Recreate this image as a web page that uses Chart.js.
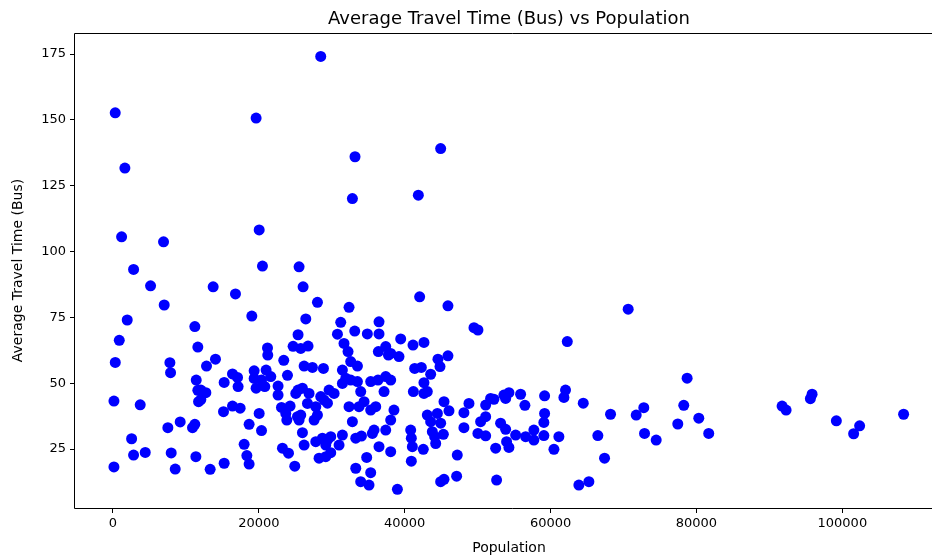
<!DOCTYPE html>
<html>
<head>
<meta charset="utf-8">
<script src="https://cdn.jsdelivr.net/npm/chart.js@4"></script>
<style>
  html, body { margin: 0; padding: 0; background: #fff; overflow: hidden; }
  #wrap { width: 932px; height: 558px; overflow: hidden; }
</style>
</head>
<body>
<div id="wrap"><canvas id="chart" width="950" height="558"></canvas></div>
<script>
// Population of each area (x) and its average bus travel time (y)
const population = [
  28490, 315, 19630, 1640, 33190, 44930, 32830, 41870, 1190, 6940,
  2830, 5160, 7030, 1960, 11230, 870, 11640, 320, 7810, 7900,
  11420, 11640, 11740, 140, 3740, 9220, 7530, 11230, 10910, 2560,
  2830, 4430, 7990, 11370, 140, 8540,
  13740, 16800, 19040, 25380, 21190, 21230, 24700, 14060, 12830, 23420,
  16390, 17080, 19360, 19360, 21000, 21640, 20370, 19630, 20820, 22640,
  23930, 15250, 17160, 12050, 12740, 22640, 25380, 12050,
  25070, 15160, 16390, 17440, 20050, 23110, 24290, 23700, 23840, 25300,
  18670, 20370, 17990, 23240, 24070, 18360, 18670, 15250, 13330, 24930,
  26070, 28040, 32370, 26440, 31230, 36480, 30780, 33150, 34880, 36480,
  39450, 25750, 26750, 31680, 32230, 36390, 37400, 37770, 39220, 32600,
  33520, 26210, 27350, 28860, 31460, 31920, 32600, 33520, 35340, 36340,
  37400, 38080, 31460, 33970, 37170, 25980, 26890, 29630, 30320, 28490,
  26670, 25750, 25520, 27810, 28040, 27580, 28950, 29410, 32370, 33740,
  34430, 35340, 36030, 32830, 38530, 38080, 25980, 27810, 28720, 29410,
  29860, 29180, 26210, 31460, 31000, 33290, 34070, 35570, 35800, 37400,
  36480, 38080, 28260, 29180, 29860, 34790, 33290, 35340, 33970, 35110,
  39000,
  42050, 45930, 49500, 50040, 41140, 42640, 38080, 44560, 45930, 44840,
  41370, 42280, 43560, 42640, 41190, 42640, 43100,
  45390, 46070, 48810, 51100, 52230, 43100, 44480, 43560, 44930, 48120,
  50410, 51100, 48120, 53150, 40820, 40910, 41050, 43790, 44110, 45300,
  44250, 50040, 51100, 42550, 47210, 52470, 40910, 45390, 44930, 47120,
  52600,
  70640, 62290, 51780, 53600, 54290, 55890, 53840, 59180, 62050, 61830,
  56480, 64480, 59180, 59080, 68220, 72780, 71740, 53840, 55210, 56580,
  57710, 57710, 59080, 61140, 66480, 72880, 53970, 54290, 60460, 67400,
  63880, 65250,
  78720, 78260, 80320, 77440, 74480, 81680, 91740, 92290, 95850, 95620,
  99180, 102370, 101550, 108400,
  20050, 20500, 25520
];

const travelTime = [
  174.1, 152.7, 150.7, 131.7, 136.0, 139.1, 120.1, 121.4, 105.6, 103.7,
  93.2, 87.0, 79.7, 74.0, 71.5, 66.3, 63.7, 57.9, 57.8, 54.0,
  51.2, 47.3, 43.0, 43.2, 41.8, 35.3, 33.1, 34.4, 33.1, 28.9,
  22.7, 23.7, 23.5, 22.1, 18.2, 17.4,
  86.6, 83.9, 75.5, 68.4, 63.4, 60.7, 64.0, 59.1, 56.5, 58.7,
  53.5, 52.2, 54.7, 51.8, 55.0, 52.5, 51.2, 48.1, 48.7, 48.9,
  53.0, 50.3, 48.7, 47.4, 46.4, 45.5, 47.4, 43.8,
  46.1, 39.2, 41.3, 40.5, 38.5, 40.8, 41.3, 38.5, 36.0, 37.3,
  34.4, 32.0, 26.8, 25.3, 23.4, 22.5, 19.3, 19.6, 17.3, 18.5,
  86.6, 80.7, 78.8, 74.4, 73.1, 73.3, 68.6, 69.8, 68.7, 68.7,
  66.8, 63.2, 64.1, 65.1, 62.0, 62.0, 63.9, 60.7, 60.1, 58.2,
  56.5, 56.5, 56.0, 55.6, 55.0, 51.9, 51.2, 50.6, 50.6, 51.2,
  52.5, 51.2, 49.9, 46.8, 46.8, 48.1, 46.1, 47.4, 46.1, 44.9,
  42.3, 37.9, 36.0, 41.1, 37.9, 36.0, 43.6, 42.4, 41.1, 41.1,
  43.0, 39.8, 41.1, 35.4, 39.8, 36.0, 31.2, 27.8, 29.1, 28.4,
  29.7, 26.5, 26.5, 30.3, 26.5, 29.1, 29.9, 30.9, 32.2, 32.2,
  25.9, 24.0, 21.5, 22.1, 23.6, 21.8, 17.7, 16.0, 12.6, 11.3,
  9.7,
  82.8, 79.4, 71.1, 70.2, 64.5, 65.5, 61.3, 59.1, 60.4, 56.3,
  55.6, 56.0, 53.4, 50.2, 46.8, 46.1, 46.8,
  43.0, 39.5, 42.3, 41.7, 43.9, 37.9, 38.5, 35.4, 34.8, 38.8,
  35.4, 37.3, 33.1, 34.8, 32.2, 29.1, 25.9, 31.6, 29.7, 30.6,
  27.1, 30.9, 30.0, 24.9, 22.7, 25.3, 20.4, 13.5, 12.6, 14.7,
  13.2,
  78.1, 65.8, 44.2, 45.5, 46.4, 45.8, 44.2, 45.2, 47.4, 44.6,
  41.6, 42.4, 38.5, 35.1, 38.2, 40.7, 37.9, 32.5, 30.3, 29.7,
  32.2, 28.4, 30.1, 29.7, 30.1, 30.9, 27.8, 25.6, 24.9, 21.5,
  11.3, 12.6,
  51.9, 41.6, 36.7, 34.5, 28.4, 30.9, 41.3, 39.8, 45.8, 44.1,
  35.7, 33.8, 30.8, 38.2,
  108.2, 94.5, 94.2
];

const xTicks = [0, 20000, 40000, 60000, 80000, 100000];
const yTicks = [25, 50, 75, 100, 125, 150, 175];

const FONT = "'DejaVu Sans', 'Liberation Sans', sans-serif";

// left, top and bottom spines; the right one falls outside the picture
const framePlugin = {
  id: 'frame',
  afterDraw(chart) {
    const { ctx, chartArea: a } = chart;
    const l = Math.round(a.left) - 0.5;
    const t = Math.round(a.top) + 0.5;
    const b = Math.round(a.bottom) + 0.5;
    const r = ctx.canvas.width + 5;
    ctx.save();
    ctx.strokeStyle = '#000';
    ctx.lineWidth = 1;
    ctx.beginPath();
    ctx.moveTo(r, t);
    ctx.lineTo(l, t);
    ctx.lineTo(l, b);
    ctx.lineTo(r, b);
    ctx.stroke();
    ctx.restore();
  }
};

new Chart(document.getElementById('chart'), {
  type: 'scatter',
  data: {
    datasets: [{
      data: population.map((x, i) => ({ x: x, y: travelTime[i] })),
      backgroundColor: '#0000ff',
      borderColor: '#0000ff',
      borderWidth: 0,
      pointRadius: 5.5,
      pointHoverRadius: 5.5
    }]
  },
  options: {
    responsive: false,
    animation: false,
    devicePixelRatio: 1,
    layout: { padding: { left: 0, right: 7, top: 0, bottom: 0 } },
    plugins: {
      legend: { display: false },
      tooltip: { enabled: false },
      title: {
        display: true,
        text: 'Average Travel Time (Bus) vs Population',
        fullSize: false,
        color: '#000',
        font: { family: FONT, size: 18, weight: 'normal' },
        padding: { top: 8.2, bottom: 3.2 }
      }
    },
    scales: {
      x: {
        type: 'linear',
        min: -5200,
        max: 113800,
        afterBuildTicks(scale) { scale.ticks = xTicks.map(v => ({ value: v })); },
        afterFit(scale) { scale.height = 50; },
        border: { display: false },
        grid: { display: true, drawOnChartArea: false, drawTicks: true, tickLength: 5, color: '#000' },
        ticks: {
          color: '#000',
          padding: 3,
          maxRotation: 0,
          font: { family: FONT, size: 13 },
          callback: v => String(v)
        },
        title: {
          display: true,
          text: 'Population',
          color: '#000',
          font: { family: FONT, size: 14 },
          padding: { top: 4, bottom: 1.6 }
        }
      },
      y: {
        type: 'linear',
        min: 2.6,
        max: 183.0,
        afterBuildTicks(scale) { scale.ticks = yTicks.map(v => ({ value: v })); },
        afterFit(scale) { scale.width = 75; },
        border: { display: false },
        grid: { display: true, drawOnChartArea: false, drawTicks: true, tickLength: 5, color: '#000' },
        ticks: {
          color: '#000',
          padding: 4,
          font: { family: FONT, size: 13 },
          callback: v => String(v)
        },
        title: {
          display: true,
          text: 'Average Travel Time (Bus)',
          color: '#000',
          font: { family: FONT, size: 14 },
          padding: { top: 9.6, bottom: 0 }
        }
      }
    }
  },
  plugins: [framePlugin]
});
</script>
</body>
</html>
